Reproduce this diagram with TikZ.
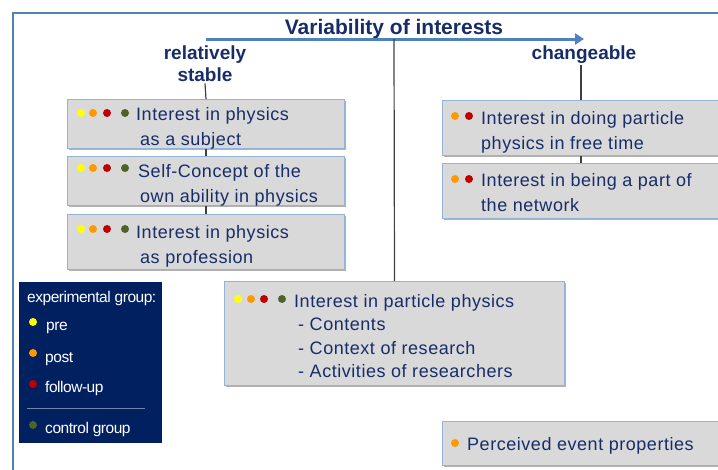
\documentclass[tikz,border=0pt]{standalone}
\usepackage{fontspec}
\setmainfont{Liberation Sans}
\newfontfamily\spacedfont[LetterSpace=3]{Liberation Sans}
\newfontfamily\narrowfont[LetterSpace=-3]{Liberation Sans}
\usetikzlibrary{arrows.meta,shadows}

\definecolor{navytext}{RGB}{23,45,105}
\definecolor{framecol}{RGB}{79,129,189}
\definecolor{boxfill}{RGB}{217,217,217}
\definecolor{boxline}{RGB}{149,179,215}
\definecolor{legendfill}{RGB}{0,32,96}
\definecolor{cpre}{RGB}{255,255,0}
\definecolor{cpost}{RGB}{255,153,0}
\definecolor{cfollow}{RGB}{192,0,0}
\definecolor{ccontrol}{RGB}{79,98,40}
\definecolor{connline}{RGB}{64,64,64}

\tikzset{
  box/.style={draw=boxline, fill=boxfill, line width=1pt, anchor=north west, inner sep=0pt,
    drop shadow={shadow xshift=1.5pt, shadow yshift=-1.5pt, fill=black, opacity=.3}},
  boxtext/.style={text=navytext, anchor=base west, align=left, inner sep=0pt,
    font=\spacedfont\fontsize{18}{25}\selectfont},
  head/.style={text=navytext, font=\bfseries\fontsize{19}{22}\selectfont, align=center, inner sep=2pt},
  conn/.style={draw=connline, line width=1.2pt},
  legtext/.style={text=white, anchor=base west, inner sep=0pt, font=\narrowfont\fontsize{15.5}{18}\selectfont},
}

\begin{document}
\begin{tikzpicture}[x=1pt,y=-1pt]
\useasboundingbox (0,0) rectangle (718,469);
\draw[framecol, line width=2pt] (13,475) -- (13,13) -- (725,13);

% title and arrow
\node[text=navytext, font=\bfseries\fontsize{21}{24}\selectfont, anchor=base] (title) at (394,34) {Variability of interests};
\coordinate (arrowstart) at (206,39);
\coordinate (arrowend) at (584,39);
\coordinate (mid) at (394,39);
\draw[framecol, line width=3pt, -{Triangle[length=9pt,width=11pt]}] (arrowstart) -- (arrowend);
% multi-line nodes: base = last line
\node[head, anchor=base] (stable) at (205,81) {relatively\\stable};
\node[head, anchor=base] (changeable) at (584,59) {changeable};

% boxes
\node[box, minimum width=277pt, minimum height=49pt] (subject) at (67,99) {};
\node[box, minimum width=277pt, minimum height=49pt] (selfconcept) at (67,156) {};
\node[box, minimum width=277pt, minimum height=55pt] (profession) at (67,214) {};
\node[box, minimum width=277pt, minimum height=55pt] (freetime) at (442,100) {};
\node[box, minimum width=277pt, minimum height=55pt] (network) at (442,163) {};
\node[box, minimum width=340pt, minimum height=104pt] (particle) at (224,281) {};
\node[box, minimum width=277pt, minimum height=44pt] (event) at (442,421) {};

\draw[conn] (stable.south) -- (subject.north);
\draw[conn] (subject.south) -- (selfconcept.north);
\draw[conn] (selfconcept.south) -- (profession.north);
\draw[conn] (changeable.south -| freetime.north) -- (freetime.north);
\draw[conn] (freetime.south) -- (network.north);
\draw[conn] (mid) -- (particle.north);

% texts
\node[boxtext] (subjecttext) at (136,145) {Interest in physics\\\hspace*{4pt}as a subject};
\node[boxtext] (selftext) at (138,202) {Self-Concept of the\\\hspace*{2pt}own ability in physics};
\node[boxtext] (proftext) at (136,263) {Interest in physics\\\hspace*{4pt}as profession};
\node[boxtext] (freetext) at (481,149) {Interest in doing particle\\physics in free time};
\node[boxtext] (networktext) at (481,211) {Interest in being a part of\\the network};
\node[boxtext, font=\spacedfont\fontsize{18}{23.5}\selectfont] (particletext) at (294,377.5)
  {Interest in particle physics\\\hspace*{4pt}- Contents\\\hspace*{4pt}- Context of research\\\hspace*{4pt}- Activities of researchers};
\node[boxtext] (eventtext) at (467,450) {Perceived event properties};

% dots
\foreach \y in {113,168,229}
  \foreach \x/\c in {81/cpre,93/cpost,107/cfollow,125/ccontrol}
    \fill[\c] (\x,\y) circle (4);
\foreach \x/\c in {238/cpre,251/cpost,264/cfollow,282/ccontrol}
  \fill[\c] (\x,299) circle (4);
\foreach \y in {116,179} {
  \fill[cpost] (455,\y) circle (4);
  \fill[cfollow] (469,\y) circle (4);
}
\fill[cpost] (455,443) circle (4);

% legend
\node[fill=legendfill, minimum width=143pt, minimum height=161pt, anchor=north west, inner sep=0pt] (legend) at (19,282) {};
\node[legtext] (expgroup) at (27,302) {experimental group:};
\node[legtext] (pre) at (46,330) {pre};
\node[legtext] (post) at (45,362) {post};
\node[legtext] (followup) at (45,392) {follow-up};
\node[legtext] (control) at (45,433) {control group};
\draw[white!45!legendfill, line width=1pt] (27,408) -- (145,408);
\fill[cpre] (33,322) circle (4);
\fill[cpost] (33,353) circle (4);
\fill[cfollow] (33,384) circle (4);
\fill[ccontrol] (33,425) circle (4);
\end{tikzpicture}
\end{document}
